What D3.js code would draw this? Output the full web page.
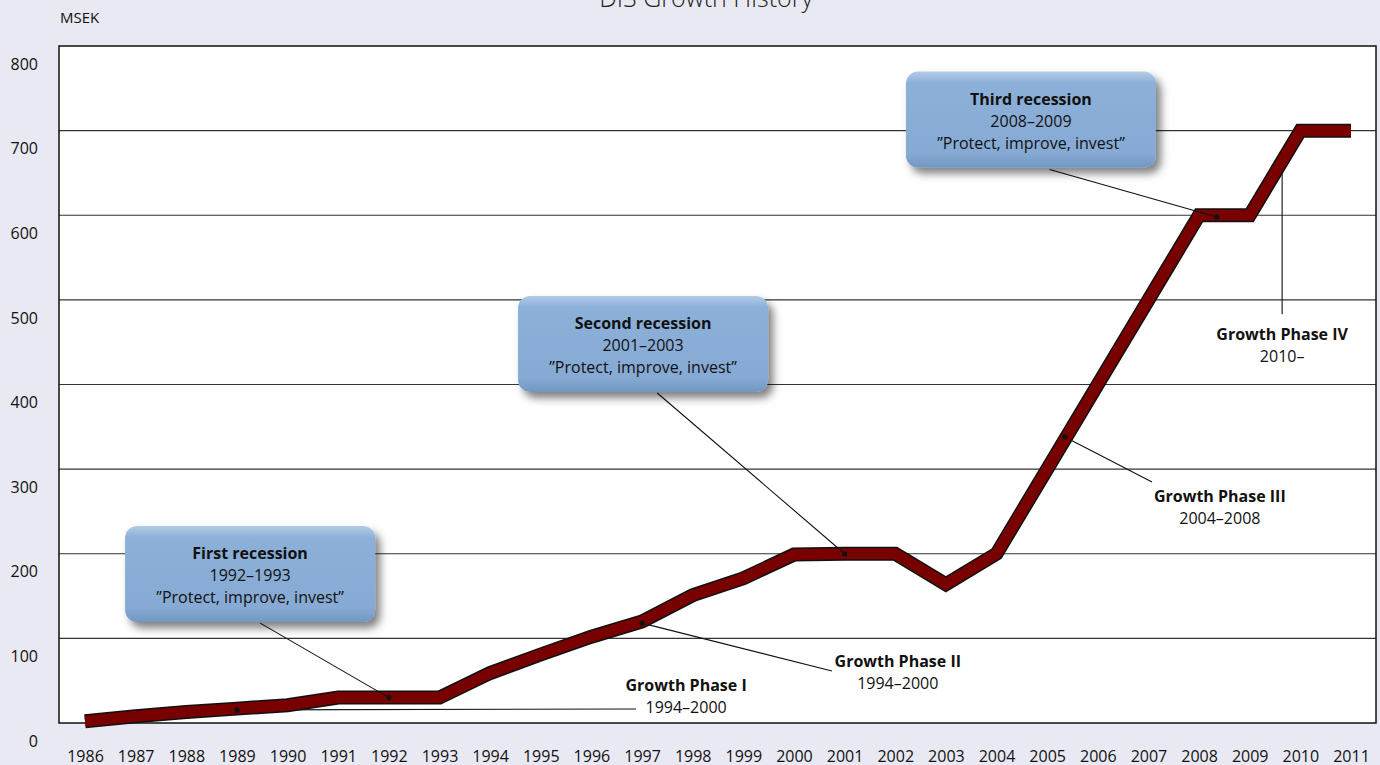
<!DOCTYPE html>
<html>
<head>
<meta charset="utf-8">
<script src="https://cdn.jsdelivr.net/npm/d3@7"></script>
<style>
  html, body { margin: 0; padding: 0; background: #e9e9f3; }
  svg { display: block; font-family: "Open Sans", sans-serif; }
</style>
</head>
<body>
<div class="box"></div>
<script>
// DATA
const years = d3.range(1986, 2012);
const revenue = [2, 8, 13, 17, 21, 30, 30, 30, 59, 81, 102, 120, 151, 171,
                 199, 200, 200, 164, 200, 300, 400, 500, 600, 600, 700, 700];
const yTicks = [0, 100, 200, 300, 400, 500, 600, 700, 800];

// recession boxes: centre in [year, value]
const recessions = [
  { title: "First recession", period: "1992–1993", motto: "”Protect, improve, invest”",
    at: [1989.26, 176], from: [1989.46, 118], to: [1992, 30] },
  { title: "Second recession", period: "2001–2003", motto: "”Protect, improve, invest”",
    at: [1997.02, 448], from: [1997.3, 390], to: [2001, 200] },
  { title: "Third recession", period: "2008–2009", motto: "”Protect, improve, invest”",
    at: [2004.68, 713], from: [2005.05, 654], to: [2008.35, 598] }
];

// growth phase labels: text anchor and leader line in [year, value]
const phases = [
  { title: "Growth Phase I", period: "1994–2000", at: [1997.87, 37.8],
    from: [1996.88, 16.5], to: [1989, 15.5] },
  { title: "Growth Phase II", period: "1994–2000", at: [2002.05, 66.2],
    from: [2000.75, 61.4], to: [1997, 118] },
  { title: "Growth Phase III", period: "2004–2008", at: [2008.41, 261],
    from: [2007.07, 284.8], to: [2005.35, 338] },
  { title: "Growth Phase IV", period: "2010–", at: [2009.64, 452.6],
    from: [2009.64, 483], to: [2009.64, 651] }
];

const w = 1380;
const h = 765;
const plotLeft = 59, plotRight = 1376, plotTop = 46, plotBottom = 723;

const svg = d3.select(".box")
              .append("svg")
              .attr("width", w)
              .attr("height", h);

// filters and gradients
const defs = svg.append("defs");
const shadow = defs.append("filter").attr("id", "shadow")
                   .attr("x", "-20%").attr("y", "-20%")
                   .attr("width", "150%").attr("height", "160%");
shadow.append("feDropShadow")
      .attr("dx", 5).attr("dy", 6)
      .attr("stdDeviation", 4)
      .attr("flood-color", "#000")
      .attr("flood-opacity", 0.5);

const grad = defs.append("linearGradient").attr("id", "boxfill")
                 .attr("x1", 0).attr("y1", 0).attr("x2", 0).attr("y2", 1);
grad.append("stop").attr("offset", "0%").attr("stop-color", "#b3cbe6");
grad.append("stop").attr("offset", "12%").attr("stop-color", "#8cb0d8");
grad.append("stop").attr("offset", "85%").attr("stop-color", "#86aad3");
grad.append("stop").attr("offset", "100%").attr("stop-color", "#7197c4");

// SCALES
const xScale = d3.scaleLinear().domain([1986, 2011]).range([85, 1351]);
const yScale = d3.scaleLinear().domain([0, 800]).range([plotBottom, plotTop]);

// TITLE (partly above the page, as in the original)
svg.append("text")
   .attr("x", 706).attr("y", 7)
   .attr("text-anchor", "middle")
   .style("font-size", "25px")
   .style("font-weight", 300)
   .style("fill", "#222")
   .text("DIS Growth History");

svg.append("text")
   .attr("x", 60).attr("y", 23)
   .style("font-size", "15px")
   .style("fill", "#111")
   .text("MSEK");

// PLOT AREA
svg.append("rect")
   .attr("x", plotLeft).attr("y", plotTop)
   .attr("width", plotRight - plotLeft).attr("height", plotBottom - plotTop)
   .style("fill", "#fff");

// GRIDLINES
svg.append("g")
   .selectAll("line")
   .data(yTicks.filter(d => d > 0 && d < 800))
   .enter()
   .append("line")
   .attr("x1", plotLeft).attr("x2", plotRight)
   .attr("y1", d => yScale(d)).attr("y2", d => yScale(d))
   .style("stroke", "#333")
   .style("stroke-width", 1.2);

svg.append("rect")
   .attr("x", plotLeft).attr("y", plotTop)
   .attr("width", plotRight - plotLeft).attr("height", plotBottom - plotTop)
   .style("fill", "none")
   .style("stroke", "#111")
   .style("stroke-width", 1.5);

// AXES (labels only; the original puts them a little below each line)
const yAxis = d3.axisLeft(yScale).tickValues(yTicks).tickSize(0).tickPadding(21);
const gy = svg.append("g")
   .attr("transform", "translate(" + plotLeft + ",0)")
   .call(yAxis);
gy.select(".domain").remove();
gy.selectAll("text")
  .attr("dy", "1.45em")
  .style("font-size", "16px")
  .style("font-family", "Open Sans")
  .style("fill", "#111");

const xAxis = d3.axisBottom(xScale).tickValues(years).tickFormat(d3.format("d")).tickSize(0).tickPadding(0);
const gx = svg.append("g")
   .attr("transform", "translate(0," + plotBottom + ")")
   .call(xAxis);
gx.select(".domain").remove();
gx.selectAll("text")
  .attr("y", 39).attr("dy", 0)
  .style("font-size", "16px")
  .style("font-family", "Open Sans")
  .style("fill", "#111");

// LEADER LINES (under the data line)
const leaders = svg.append("g");
function leader(d) {
  leaders.append("line")
     .attr("x1", xScale(d.from[0])).attr("y1", yScale(d.from[1]))
     .attr("x2", xScale(d.to[0])).attr("y2", yScale(d.to[1]))
     .style("stroke", "#111")
     .style("stroke-width", 1.1);
}
phases.forEach(leader);

// DATA LINE
const line = d3.line()
               .x((d, i) => xScale(years[i]))
               .y(d => yScale(d));

svg.append("path")
   .datum(revenue)
   .attr("d", line)
   .style("fill", "none")
   .style("stroke", "#111")
   .style("stroke-width", 14)
   .style("stroke-linejoin", "miter");
svg.append("path")
   .datum(revenue)
   .attr("d", line)
   .style("fill", "none")
   .style("stroke", "#780000")
   .style("stroke-width", 11)
   .style("stroke-linejoin", "miter");

// recession leaders go on top of the line
const leaders2 = svg.append("g");
recessions.forEach(d => {
  leaders2.append("line")
     .attr("x1", xScale(d.from[0])).attr("y1", yScale(d.from[1]))
     .attr("x2", xScale(d.to[0])).attr("y2", yScale(d.to[1]))
     .style("stroke", "#111")
     .style("stroke-width", 1.1);
});

// DOTS where leaders touch the line
svg.append("g")
   .selectAll("circle")
   .data(recessions.concat(phases.slice(0, 3)))
   .enter()
   .append("circle")
   .attr("cx", d => xScale(d.to[0]))
   .attr("cy", d => yScale(d.to[1]))
   .attr("r", 2.6)
   .style("fill", "#111");

// RECESSION BOXES
const bw = 250, bh = 96;
const boxes = svg.append("g")
   .selectAll("g")
   .data(recessions)
   .enter()
   .append("g")
   .attr("transform", d => "translate(" + xScale(d.at[0]) + "," + yScale(d.at[1]) + ")");

boxes.append("rect")
   .attr("x", -bw / 2).attr("y", -bh / 2)
   .attr("width", bw).attr("height", bh)
   .attr("rx", 12).attr("ry", 12)
   .style("fill", "url(#boxfill)")
   .attr("filter", "url(#shadow)");

boxes.append("text")
   .attr("text-anchor", "middle")
   .attr("y", -15)
   .style("font-size", "16px")
   .style("font-weight", "bold")
   .style("fill", "#111")
   .text(d => d.title);
boxes.append("text")
   .attr("text-anchor", "middle")
   .attr("y", 7)
   .style("font-size", "16px")
   .style("fill", "#111")
   .text(d => d.period);
boxes.append("text")
   .attr("text-anchor", "middle")
   .attr("y", 29)
   .style("font-size", "16px")
   .style("fill", "#111")
   .text(d => d.motto);

// PHASE LABELS
const labels = svg.append("g")
   .selectAll("g")
   .data(phases)
   .enter()
   .append("g")
   .attr("transform", d => "translate(" + xScale(d.at[0]) + "," + yScale(d.at[1]) + ")");

labels.append("text")
   .attr("text-anchor", "middle")
   .style("font-size", "16px")
   .style("font-weight", "bold")
   .style("fill", "#111")
   .text(d => d.title);
labels.append("text")
   .attr("text-anchor", "middle")
   .attr("y", 22)
   .style("font-size", "16px")
   .style("fill", "#111")
   .text(d => d.period);
</script>
</body>
</html>
